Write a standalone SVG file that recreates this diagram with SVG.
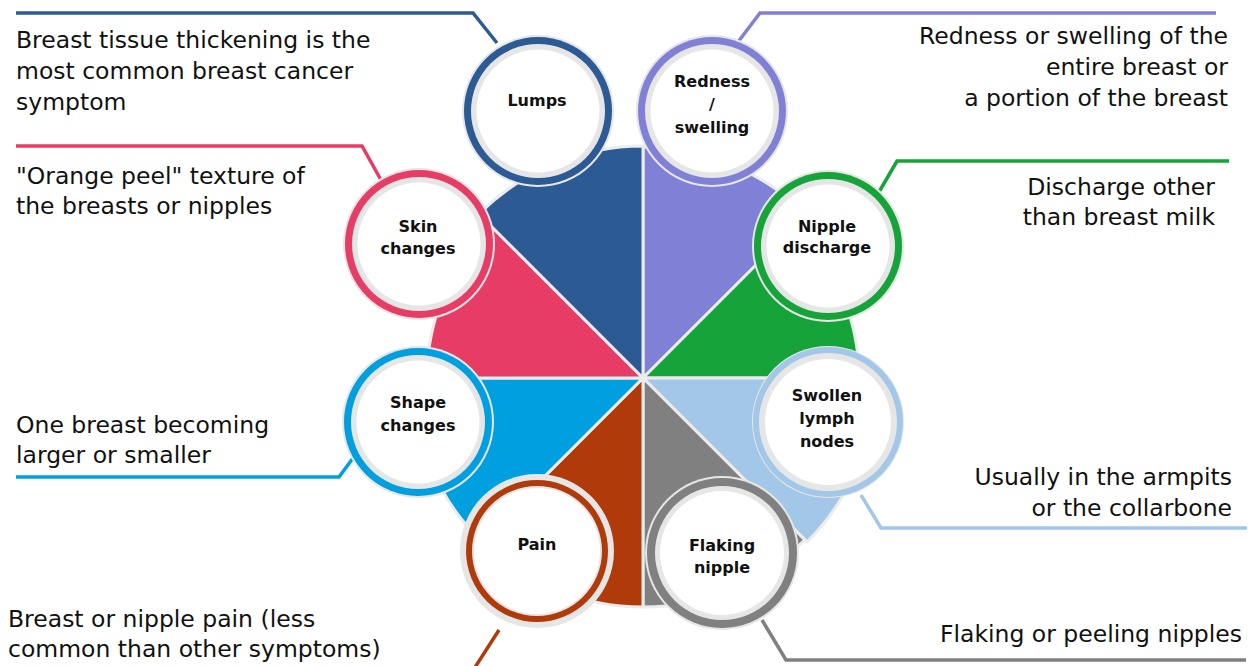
<svg xmlns="http://www.w3.org/2000/svg" width="1258" height="666" viewBox="0 0 1258 666">
<style>
.wedge{stroke:#ececec;stroke-width:3;stroke-linejoin:round}
.conn{fill:none;stroke-width:3.5;stroke-linejoin:miter}
.halo{fill:#e6e6e6}
.inner{fill:#e6e6e6}
.white{fill:#ffffff}
.lbl{font-family:"DejaVu Sans","Liberation Sans",sans-serif;font-weight:bold;font-size:16px;fill:#111;text-anchor:middle}
.desc{font-family:"DejaVu Sans","Liberation Sans",sans-serif;font-size:23.5px;fill:#111}
.r{text-anchor:end}
</style>
<rect width="1258" height="666" fill="#ffffff"/>
<g id="center">
<path class="wedge" fill="#8080d6" d="M643,378 L643,147 A231,231 0 0 1 806.3,214.7 Z"/>
<path class="wedge" fill="#16a33a" d="M643,378 L795.7,225.3 A216,216 0 0 1 859,378 Z"/>
<path class="wedge" fill="#a3c7e8" d="M643,378 L875,378 A232,232 0 0 1 807,542 Z"/>
<path class="wedge" fill="#808080" d="M643,378 L804.9,539.9 A229,229 0 0 1 643,607 Z"/>
<path class="wedge" fill="#b03a0a" d="M643,378 L643,607 A229,229 0 0 1 481.1,539.9 Z"/>
<path class="wedge" fill="#00a0e0" d="M643,378 L480.4,540.6 A230,230 0 0 1 413,378 Z"/>
<path class="wedge" fill="#e63c66" d="M643,378 L427,378 A216,216 0 0 1 490.3,225.3 Z"/>
<path class="wedge" fill="#2b5a94" d="M643,378 L479,214 A232,232 0 0 1 643,146 Z"/>
</g>
<g id="connectors">
<polyline class="conn" stroke="#2b5a94" points="16,13 473,13 497,43"/>
<polyline class="conn" stroke="#e63c66" points="16,146 362,146 381,180"/>
<polyline class="conn" stroke="#8080d6" points="738,42 760,13 1216,13"/>
<polyline class="conn" stroke="#16a33a" points="879,192 897,161 1229,161"/>
<polyline class="conn" stroke="#a3c7e8" points="861,495 881,528 1247,528"/>
<polyline class="conn" stroke="#808080" points="762,620 786,660 1246,660"/>
<polyline class="conn" stroke="#b03a0a" points="499,630 472,672"/>
<polyline class="conn" stroke="#00a0e0" points="16,477 339,477 356,454"/>
</g>
<g id="node-lumps">
<circle class="halo" cx="538" cy="111" r="76"/>
<circle fill="#2b5a94" cx="538" cy="111" r="74"/>
<circle class="inner" cx="538" cy="111" r="67"/>
<circle class="white" cx="538" cy="111" r="61.5"/>
<text class="lbl" x="537" y="106">Lumps</text>
</g>
<g id="node-redness">
<circle class="halo" cx="712" cy="111" r="76"/>
<circle fill="#8080d6" cx="712" cy="111" r="74"/>
<circle class="inner" cx="712" cy="111" r="67"/>
<circle class="white" cx="712" cy="111" r="61.5"/>
<text class="lbl" x="712" y="87">Redness</text>
<text class="lbl" x="712" y="110">/</text>
<text class="lbl" x="712" y="133">swelling</text>
</g>
<g id="node-skin">
<circle class="halo" cx="419" cy="244" r="76"/>
<circle fill="#e63c66" cx="419" cy="244" r="74"/>
<circle class="inner" cx="419" cy="244" r="67"/>
<circle class="white" cx="419" cy="244" r="61.5"/>
<text class="lbl" x="418" y="232">Skin</text>
<text class="lbl" x="418" y="254">changes</text>
</g>
<g id="node-nipple-discharge">
<circle class="halo" cx="828" cy="246" r="76"/>
<circle fill="#16a33a" cx="828" cy="246" r="74"/>
<circle class="inner" cx="828" cy="246" r="67"/>
<circle class="white" cx="828" cy="246" r="61.5"/>
<text class="lbl" x="827" y="232">Nipple</text>
<text class="lbl" x="827" y="253">discharge</text>
</g>
<g id="node-swollen">
<circle class="halo" cx="828" cy="422" r="76"/>
<circle fill="#a3c7e8" cx="828" cy="422" r="75"/>
<circle class="inner" cx="828" cy="422" r="69"/>
<circle class="white" cx="828" cy="422" r="63"/>
<text class="lbl" x="827" y="401">Swollen</text>
<text class="lbl" x="827" y="424">lymph</text>
<text class="lbl" x="827" y="447">nodes</text>
</g>
<g id="node-shape">
<circle class="halo" cx="418" cy="422" r="76"/>
<circle fill="#00a0e0" cx="418" cy="422" r="74"/>
<circle class="inner" cx="418" cy="422" r="67"/>
<circle class="white" cx="418" cy="422" r="61.5"/>
<text class="lbl" x="418" y="408">Shape</text>
<text class="lbl" x="418" y="431">changes</text>
</g>
<g id="node-pain">
<circle class="halo" cx="537" cy="551" r="77"/>
<circle fill="#b03a0a" cx="537" cy="551" r="71"/>
<circle class="inner" cx="537" cy="551" r="65"/>
<circle class="white" cx="537" cy="551" r="63"/>
<text class="lbl" x="537" y="550">Pain</text>
</g>
<g id="node-flaking">
<circle class="halo" cx="722" cy="553" r="77"/>
<circle fill="#808080" cx="722" cy="553" r="75"/>
<circle class="inner" cx="722" cy="553" r="67"/>
<circle class="white" cx="722" cy="553" r="62"/>
<text class="lbl" x="722" y="551">Flaking</text>
<text class="lbl" x="722" y="573">nipple</text>
</g>
<g id="descriptions">
<text class="desc" x="16" y="48">Breast tissue thickening is the</text>
<text class="desc" x="16" y="79">most common breast cancer</text>
<text class="desc" x="16" y="110">symptom</text>
<text class="desc" x="16" y="184">"Orange peel" texture of</text>
<text class="desc" x="16" y="214">the breasts or nipples</text>
<text class="desc" x="16" y="433">One breast becoming</text>
<text class="desc" x="16" y="463">larger or smaller</text>
<text class="desc" x="8" y="627">Breast or nipple pain (less</text>
<text class="desc" x="8" y="657">common than other symptoms)</text>
<text class="desc r" x="1228" y="44">Redness or swelling of the</text>
<text class="desc r" x="1228" y="75">entire breast or</text>
<text class="desc r" x="1228" y="106">a portion of the breast</text>
<text class="desc r" x="1215" y="195">Discharge other</text>
<text class="desc r" x="1215" y="225">than breast milk</text>
<text class="desc r" x="1232" y="485">Usually in the armpits</text>
<text class="desc r" x="1232" y="516">or the collarbone</text>
<text class="desc r" x="1242" y="642">Flaking or peeling nipples</text>
</g>
</svg>
